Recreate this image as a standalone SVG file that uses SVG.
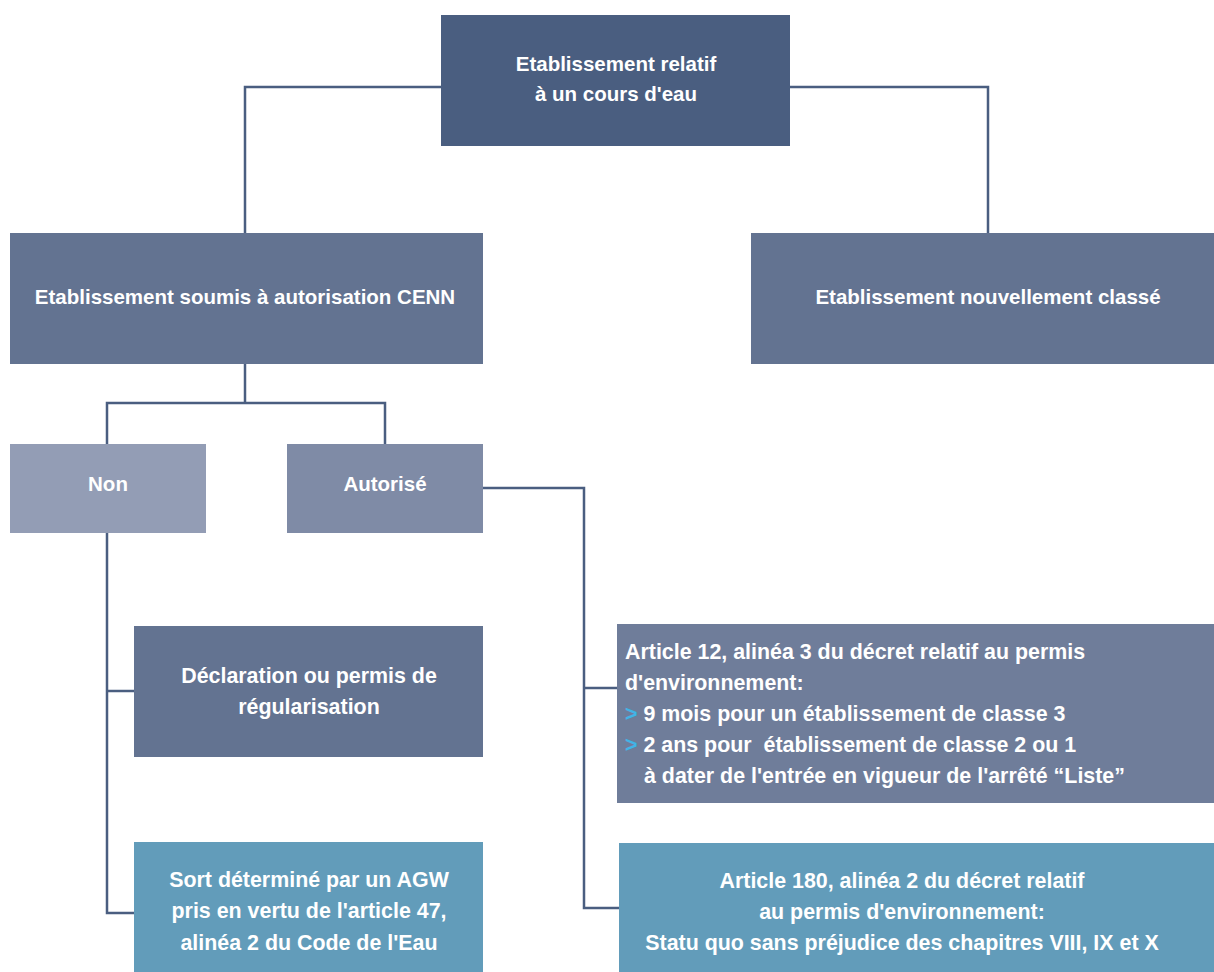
<svg xmlns="http://www.w3.org/2000/svg" width="1214" height="972" viewBox="0 0 1214 972">
<style>
.t{font-family:"Liberation Sans",Arial,sans-serif;font-weight:bold;font-size:20.5px;fill:#ffffff}
.s{font-size:21.4px}
.c{text-anchor:middle}
.b{fill:#41b4e6}
.ln{fill:none;stroke:#4a5e80;stroke-width:2.5}
</style>
<rect width="1214" height="972" fill="#ffffff"/>
<g id="connectors">
<path class="ln" d="M441,87 H245 V233"/>
<path class="ln" d="M790,87 H988 V233"/>
<path class="ln" d="M245,364 V403"/>
<path class="ln" d="M107,444 V403 H385 V444"/>
<path class="ln" d="M107,533 V913 H134"/>
<path class="ln" d="M107,691 H134"/>
<path class="ln" d="M483,488 H584 V908 H619"/>
<path class="ln" d="M584,688 H617"/>
</g>
<g id="root">
<rect x="441" y="15" width="349" height="131" fill="#4a5e80"/>
<text class="t c" x="616" y="71">Etablissement relatif</text>
<text class="t c" x="616" y="101">à un cours d'eau</text>
</g>
<g id="cenn">
<rect x="10" y="233" width="473" height="131" fill="#637391"/>
<text class="t c" x="245" y="304">Etablissement soumis à autorisation CENN</text>
</g>
<g id="nouveau">
<rect x="751" y="233" width="480" height="131" fill="#637391"/>
<text class="t c" x="988" y="304">Etablissement nouvellement classé</text>
</g>
<g id="non">
<rect x="10" y="444" width="196" height="89" fill="#939db5"/>
<text class="t c" x="108" y="491">Non</text>
</g>
<g id="autorise">
<rect x="287" y="444" width="196" height="89" fill="#7f8ba6"/>
<text class="t c" x="385" y="491">Autorisé</text>
</g>
<g id="declaration">
<rect x="134" y="626" width="349" height="131" fill="#637391"/>
<text class="t s c" x="309" y="683">Déclaration ou permis de</text>
<text class="t s c" x="309" y="714">régularisation</text>
</g>
<g id="sort">
<rect x="134" y="842" width="349" height="130" fill="#629cba"/>
<text class="t s c" x="309" y="887">Sort déterminé par un AGW</text>
<text class="t s c" x="309" y="918">pris en vertu de l'article 47,</text>
<text class="t s c" x="309" y="950">alinéa 2 du Code de l'Eau</text>
</g>
<g id="article12">
<rect x="617" y="624" width="600" height="179" fill="#6f7d9a"/>
<text class="t s" x="625" y="659">Article 12, alinéa 3 du décret relatif au permis</text>
<text class="t s" x="625" y="690">d'environnement:</text>
<text class="t s" x="625" y="721"><tspan class="b">&gt;</tspan> 9 mois pour un établissement de classe 3</text>
<text class="t s" x="625" y="752"><tspan class="b">&gt;</tspan> 2 ans pour&#160; établissement de classe 2 ou 1</text>
<text class="t s" x="644" y="783">à dater de l'entrée en vigueur de l'arrêté “Liste”</text>
</g>
<g id="article180">
<rect x="619" y="843" width="600" height="129" fill="#629cba"/>
<text class="t s c" x="902" y="888">Article 180, alinéa 2 du décret relatif</text>
<text class="t s c" x="902" y="919">au permis d'environnement:</text>
<text class="t s c" x="902" y="950">Statu quo sans préjudice des chapitres VIII, IX et X</text>
</g>
</svg>
